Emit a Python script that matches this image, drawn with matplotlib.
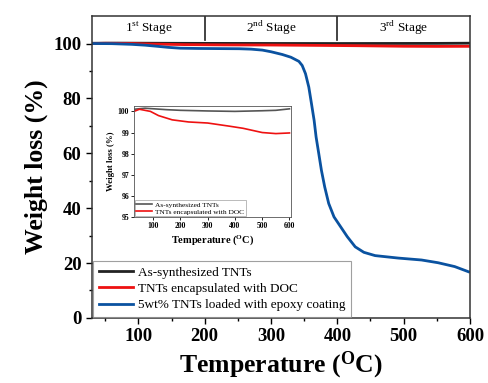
import numpy as np
import matplotlib.pyplot as plt

plt.rcParams['font.family'] = 'Liberation Serif'
plt.rcParams['mathtext.fontset'] = 'custom'
plt.rcParams['mathtext.rm'] = 'Liberation Serif'
plt.rcParams['mathtext.bf'] = 'Liberation Serif:bold'

# main panel data
temp_tnt = [30, 70, 150, 200, 300, 400, 500, 550, 600]
wt_tnt = [100.1, 100.15, 100.08, 100.05, 100.02, 100.0, 100.03, 100.05, 100.12]

temp_doc = [30, 50, 90, 120, 170, 230, 300, 380, 430, 500, 550, 600]
wt_doc = [100.0, 100.1, 100.0, 99.8, 99.6, 99.5, 99.45, 99.3, 99.2, 99.0, 98.95, 98.98]

temp_epoxy = [30, 60, 90, 110, 128, 145, 163, 190, 220, 252, 270, 287, 300,
              317, 330, 342, 347, 352, 357, 361, 365, 368, 372, 376, 381,
              387, 395, 405, 415, 427, 440, 457, 492, 527, 552, 577, 598]
wt_epoxy = [100.0, 99.95, 99.7, 99.4, 99.0, 98.6, 98.3, 98.2, 98.15, 98.1, 97.95,
            97.6, 97.0, 96.0, 95.0, 93.5, 92.0, 89.0, 84.1, 78.1, 72.0, 65.9,
            59.9, 53.8, 47.7, 41.7, 36.8, 33.2, 29.6, 25.9, 23.9, 22.7, 21.8,
            21.1, 20.1, 18.7, 16.8]

stage_edges = [200, 400]
stage_centres = [115, 300, 500]
stage_labels = [r'1$^{\rm st}$ Stage', r'2$^{\rm nd}$ Stage', r'3$^{\rm rd}$ Stage']

fig = plt.figure(figsize=(4.88, 3.83), dpi=100)
ax = fig.add_axes([0.1885, 0.17, 0.7745, 0.788])

ax.plot(temp_tnt, wt_tnt, color='#222222', lw=2, label='As-synthesized TNTs')
ax.plot(temp_doc, wt_doc, color='#ee1111', lw=2, label='TNTs encapsulated with DOC')
ax.plot(temp_epoxy, wt_epoxy, color='#0a52a0', lw=2,
        label='5wt% TNTs loaded with epoxy coating')

for x in stage_edges:
    ax.plot([x, x], [101.2, 110], color='#222222', lw=1.2)
for x, s in zip(stage_centres, stage_labels):
    ax.text(x, 105.6, s, ha='center', va='center', fontsize=9.5)

ax.set_xlim(30, 600)
ax.set_ylim(0, 110)
ax.set_xticks([100, 200, 300, 400, 500, 600])
ax.set_xticks([50, 150, 250, 350, 450, 550], minor=True)
ax.set_yticks([0, 20, 40, 60, 80, 100])
ax.set_yticks([10, 30, 50, 70, 90], minor=True)
ax.tick_params(which='major', length=4, width=1, labelsize=13.5)
ax.tick_params(which='minor', length=2.5, width=1)
for lab in ax.get_xticklabels() + ax.get_yticklabels():
    lab.set_fontweight('bold')
for sp in ax.spines.values():
    sp.set_linewidth(1.1)
    sp.set_color('#333333')

ax.set_xlabel(r'Temperature ($\mathbf{^{O}C}$)', fontsize=18.5, fontweight='bold', labelpad=3)
ax.set_ylabel('Weight loss (%)', fontsize=18.5, fontweight='bold', labelpad=4)

leg = ax.legend(loc='lower left', fontsize=9.5, frameon=True, fancybox=False,
                borderaxespad=0.1, handlelength=2.6, handletextpad=0.4,
                labelspacing=0.3, borderpad=0.4)
leg.get_frame().set_edgecolor('#888888')
leg.get_frame().set_linewidth(0.8)

# inset
ins = fig.add_axes([0.2746, 0.433, 0.3214, 0.29])
ins.plot(temp_tnt, wt_tnt, color='#555555', lw=1.2, label='As-synthesized TNTs')
ins.plot(temp_doc, wt_doc, color='#ee1111', lw=1.2, label='TNTs encapsulated with DOC')
ins.set_xlim(30, 605)
ins.set_ylim(95, 100.25)
ins.set_xticks([100, 200, 300, 400, 500, 600])
ins.set_yticks([95, 96, 97, 98, 99, 100])
ins.tick_params(length=2, width=0.6, labelsize=5.5, pad=1.5)
for lab in ins.get_xticklabels() + ins.get_yticklabels():
    lab.set_fontweight('bold')
for sp in ins.spines.values():
    sp.set_linewidth(0.6)
    sp.set_color('#555555')
ins.set_xlabel(r'Temperature ($\mathbf{^{O}C}$)', fontsize=7.5, fontweight='bold', labelpad=2)
ins.set_ylabel('Weight loss (%)', fontsize=6.3, fontweight='bold', labelpad=2)
il = ins.legend(loc='lower left', fontsize=5.3, frameon=True, fancybox=False,
                borderaxespad=0.1, handlelength=2.2, handletextpad=0.4,
                labelspacing=0.1, borderpad=0.2)
il.get_frame().set_edgecolor('#888888')
il.get_frame().set_linewidth(0.5)

fig.savefig('out.png', dpi=100)
